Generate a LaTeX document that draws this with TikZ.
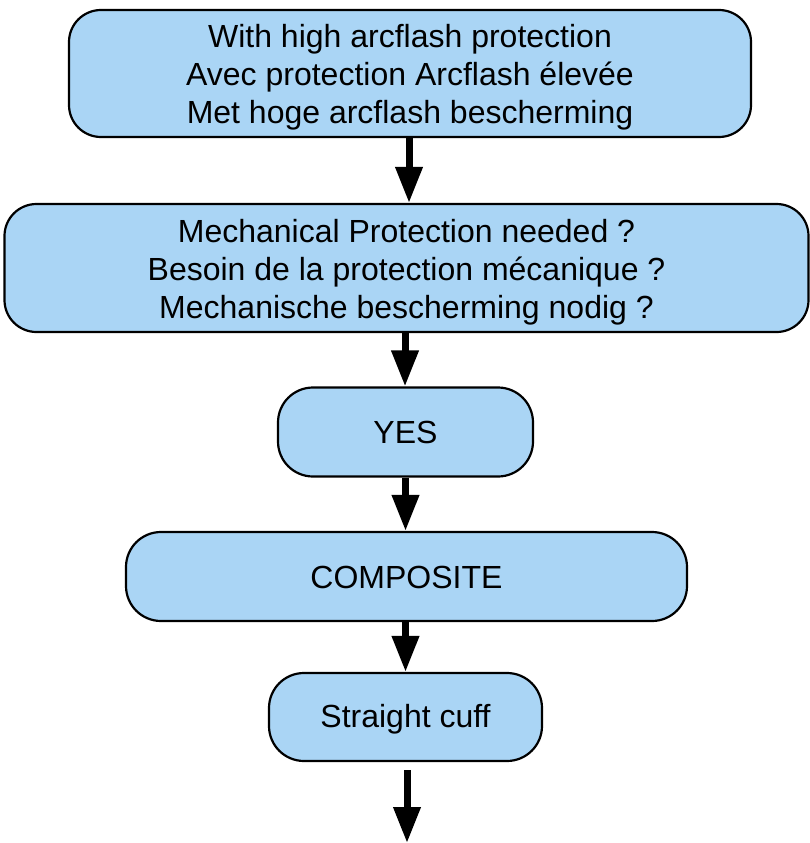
\documentclass[tikz,border=0pt]{standalone}
\usepackage{fontspec}
\setmainfont{Liberation Sans}
\usetikzlibrary{arrows.meta}
\definecolor{boxblue}{RGB}{170,213,245}
\newcommand{\topstrut}[1]{\rule{0pt}{#1}}
\begin{document}
\begin{tikzpicture}[x=1pt,y=-1pt,
  box/.style={draw=black, line width=2.2pt, fill=boxblue, rounded corners=#1,
    inner sep=0pt, align=center, font=\fontsize{32pt}{38pt}\selectfont},
  box/.default=32pt,
  flow/.style={line width=7pt, -{Triangle[width=26pt,length=36pt]}}]
\useasboundingbox (0,0) rectangle (810,843);
\node[box, minimum width=682pt, minimum height=127pt] (b1) at (410,73.5)
  {\topstrut{31pt}With high arcflash protection\\Avec protection Arcflash élevée\\Met hoge arcflash bescherming};
\node[box, minimum width=804pt, minimum height=128pt] (b2) at (406.5,268)
  {\topstrut{31pt}Mechanical Protection needed ?\\Besoin de la protection mécanique ?\\Mechanische bescherming nodig ?};
\node[box=35pt, minimum width=255pt, minimum height=89pt] (b3) at (405.5,432) {YES};
\node[box=35pt, minimum width=561pt, minimum height=89pt] (b4) at (406.5,576.5) {\topstrut{25pt}COMPOSITE};
\node[box=35pt, minimum width=273pt, minimum height=88pt] (b5) at (405.5,717) {\topstrut{28pt}Straight cuff};
\coordinate (s6) at (407,770);
\coordinate (e6) at (407,843);
\draw[flow] (b1.south -| 409,0) -- (b2.north -| 409,0);
\draw[flow] (b2.south -| 405,0) -- (b3.north -| 405,0);
\draw[flow] (b3.south) -- (b4.north -| b3.south);
\draw[flow] (b4.south -| b3.south) -- (b5.north);
\draw[flow] (s6) -- (e6);
\end{tikzpicture}
\end{document}
